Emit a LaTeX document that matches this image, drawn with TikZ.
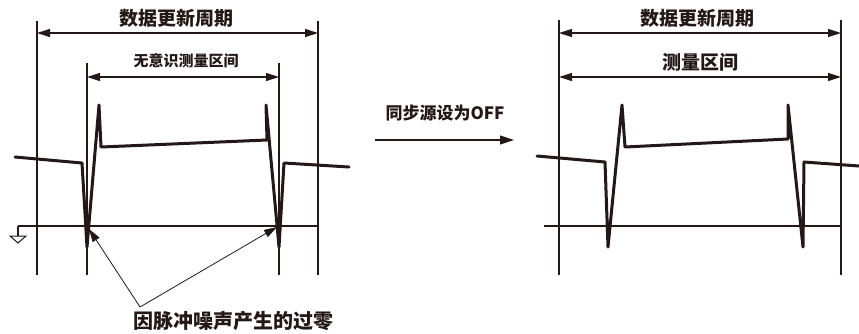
\documentclass[tikz,border=0pt]{standalone}
\usepackage{fontspec}
\newfontfamily\cjk{Noto Sans CJK SC}
\usetikzlibrary{arrows.meta}
\definecolor{ink}{HTML}{231815}
\begin{document}
\begin{tikzpicture}[x=1pt,y=-1pt,
  thin line/.style={draw=ink,line width=1.1pt},
  dim/.style={draw=ink,line width=1.1pt,{Triangle[length=13pt,width=8pt]}-{Triangle[length=13pt,width=8pt]}},
  wave/.style={draw=ink,line width=3pt,line join=round,line cap=round},
  lbl/.style={font=\cjk\bfseries,text=ink,inner sep=0pt},
  pointer/.style={draw=ink,line width=0.8pt,-{Triangle[length=13pt,width=8pt]}}]
\useasboundingbox (0,0) rectangle (859,333);
% ---------- left panel ----------
\coordinate (LA1) at (37,21);   \coordinate (LA2) at (37,275);
\coordinate (LB1) at (318,21);  \coordinate (LB2) at (318,275);
\coordinate (LC1) at (87,63);   \coordinate (LC2) at (87,275);
\coordinate (LD1) at (279,63);  \coordinate (LD2) at (279,275);
\draw[thin line] (LA1) -- (LA2);
\draw[thin line] (LB1) -- (LB2);
\draw[thin line] (LC1) -- (LC2);
\draw[thin line] (LD1) -- (LD2);
\coordinate (LT1) at (37,33); \coordinate (LT2) at (318,33);
\draw[dim] (LT1) -- (LT2);
\node[lbl,font=\cjk\bfseries\fontsize{19}{19}\selectfont] (ltitle) at (176,18) {数据更新周期};
\coordinate (LI1) at (87,77); \coordinate (LI2) at (279,77);
\draw[dim] (LI1) -- (LI2);
\node[lbl,font=\cjk\bfseries\fontsize{15}{15}\selectfont] (linner) at (186,61) {无意识测量区间};
% zero line and ground
\coordinate (LZ1) at (18,226); \coordinate (LZ2) at (318,226);
\draw[thin line] (LZ1) -- (LZ2);
\coordinate (G1) at (18,236);
\draw[thin line] (LZ1) -- (G1);
\draw[draw=ink,line width=1pt,line join=miter] (10,236) -- (26,236) -- (18,243) -- cycle;
% waveform
\draw[wave] (15,157) -- (82,163) -- (87,247) -- (99,105) -- (101,147) -- (267,140) -- (266,105) -- (279,247) -- (284,163) -- (349,167);
% annotation
\node[lbl,font=\cjk\bfseries\fontsize{20}{20}\selectfont] (note) at (233,321) {因脉冲噪声产生的过零};
\coordinate (P0) at (140,307);
\coordinate (P1) at (89,229);
\coordinate (P2) at (277,227);
\draw[pointer] (P0) -- (P1);
\draw[pointer] (P0) -- (P2);
% ---------- middle arrow ----------
\node[lbl,font=\cjk\bfseries\fontsize{17}{17}\selectfont] (mid) at (445,113) {同步源设为OFF};
\coordinate (M1) at (375,140); \coordinate (M2) at (514,140);
\draw[draw=ink,line width=1.1pt,-{Triangle[length=14pt,width=9pt]}] (M1) -- (M2);
% ---------- right panel ----------
\coordinate (RA1) at (559,20);  \coordinate (RA2) at (559,275);
\coordinate (RB1) at (841,20);  \coordinate (RB2) at (841,275);
\draw[thin line] (RA1) -- (RA2);
\draw[thin line] (RB1) -- (RB2);
\coordinate (RT1) at (559,33); \coordinate (RT2) at (841,33);
\draw[dim] (RT1) -- (RT2);
\node[lbl,font=\cjk\bfseries\fontsize{19}{19}\selectfont] (rtitle) at (697,18) {数据更新周期};
\coordinate (RI1) at (559,77); \coordinate (RI2) at (841,77);
\draw[dim] (RI1) -- (RI2);
\node[lbl,font=\cjk\bfseries\fontsize{19}{19}\selectfont] (rinner) at (700,62) {测量区间};
\coordinate (RZ1) at (544,226); \coordinate (RZ2) at (841,226);
\draw[thin line] (RZ1) -- (RZ2);
\draw[wave] (537,156) -- (605,162) -- (608,247) -- (622,105) -- (625,147) -- (788,139) -- (788,105) -- (803,247) -- (804,162) -- (859,166);
\end{tikzpicture}
\end{document}
